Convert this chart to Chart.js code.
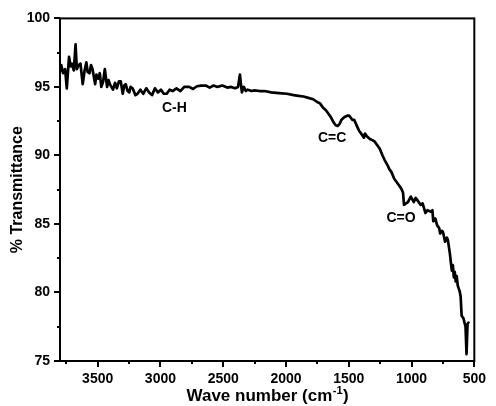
<!DOCTYPE html>
<html>
<head>
<meta charset="utf-8">
<script src="https://cdn.jsdelivr.net/npm/chart.js@4/dist/chart.umd.min.js"></script>
<style>
  html, body { margin: 0; padding: 0; background: #fff; }
</style>
</head>
<body>
<canvas id="ftirChart" width="496" height="406"></canvas>
<script>
// FTIR spectrum
const waveNumbers = [
  3800, 3790, 3775, 3759, 3746, 3728, 3716, 3705, 3690, 3676, 3666, 3651, 3637, 3619, 3604, 3590,
  3580, 3565, 3553, 3541, 3520, 3510, 3495, 3483, 3471, 3456, 3443, 3425, 3413, 3403, 3378, 3362,
  3347, 3331, 3316, 3300, 3288, 3277, 3261, 3248, 3238, 3222, 3199, 3183, 3160, 3137, 3113, 3090,
  3067, 3044, 3020, 2997, 2973, 2950, 2927, 2903, 2872, 2841, 2810, 2771, 2740, 2709, 2678, 2639,
  2608, 2577, 2546, 2507, 2468, 2437, 2406, 2382, 2367, 2359, 2351, 2336, 2320, 2305, 2273, 2250,
  2211, 2172, 2118, 2056, 1993, 1939, 1900, 1861, 1822, 1783, 1752, 1729, 1706, 1682, 1659, 1643,
  1620, 1604, 1589, 1573, 1558, 1534, 1511, 1496, 1472, 1457, 1433, 1418, 1394, 1379, 1371, 1356,
  1332, 1309, 1293, 1270, 1254, 1231, 1216, 1192, 1177, 1161, 1138, 1122, 1099, 1083, 1068, 1060,
  1044, 1029, 1006, 982, 967, 951, 928, 912, 889, 873, 850, 834, 827, 811, 796, 780,
  772, 757, 749, 733, 718, 710, 694, 687, 679, 671, 663, 656, 648, 640, 632, 617,
  609, 601, 586, 570, 562, 554, 547
];
const transmittance = [
  96.1, 96.6, 96.0, 96.3, 94.9, 97.2, 96.5, 96.7, 96.2, 98.1, 96.3, 96.6, 96.7, 95.2, 96.2, 96.8,
  96.1, 96.0, 96.6, 96.3, 95.2, 95.9, 95.6, 96.0, 95.0, 95.4, 96.3, 95.0, 95.5, 95.2, 94.8, 95.3,
  94.9, 95.4, 95.4, 94.5, 95.1, 95.2, 94.7, 94.6, 95.0, 94.9, 94.4, 94.5, 94.8, 94.5, 94.9, 94.6,
  94.4, 94.9, 94.6, 94.8, 94.5, 94.5, 94.8, 94.7, 94.9, 94.7, 95.0, 95.0, 94.85, 95.05, 95.1, 95.1,
  94.95, 95.1, 95.0, 95.1, 94.95, 95.0, 94.9, 95.0, 95.9, 95.2, 94.6, 95.0, 94.7, 94.8, 94.7, 94.75,
  94.7, 94.7, 94.6, 94.55, 94.5, 94.4, 94.35, 94.3, 94.2, 94.1, 93.9, 93.8, 93.5, 93.3, 93.0, 92.8,
  92.4, 92.2, 92.15, 92.3, 92.6, 92.8, 92.9, 92.9, 92.6, 92.6, 92.1, 91.8, 91.5, 91.3, 91.6, 91.4,
  91.2, 91.1, 91.0, 90.7, 90.5, 90.0, 89.7, 89.3, 89.0, 88.8, 88.3, 88.1, 87.8, 87.6, 87.3, 86.4,
  86.5, 86.6, 87.0, 86.6, 86.9, 86.7, 86.4, 86.5, 85.8, 86.0, 85.9, 86.0, 85.2, 85.4, 84.9, 84.7,
  84.3, 84.5, 84.4, 83.7, 84.0, 83.8, 82.8, 82.2, 81.6, 82.0, 81.1, 81.5, 80.8, 81.2, 80.5, 80.1,
  79.7, 78.3, 78.1, 77.5, 75.5, 77.7, 77.8
];

const xTickValues = [3500, 3000, 2500, 2000, 1500, 1000, 500];
const yTickValues = [75, 80, 85, 90, 95, 100];

// band labels, placed in data coordinates
const bandLabels = ["C-H", "C=C", "C=O"];
const bandWave = [2889, 1632, 1084];
const bandT = [93.45, 91.25, 85.4];

const FONT = "'Liberation Sans', Arial, sans-serif";

const framePlugin = {
  id: "frame",
  afterDraw(chart) {
    const { ctx, chartArea: a, scales: { x, y } } = chart;
    ctx.save();
    ctx.strokeStyle = "#000";
    ctx.lineWidth = 2;
    ctx.strokeRect(a.left, a.top, a.right - a.left, a.bottom - a.top);

    // outward ticks, minor ones shorter
    ctx.beginPath();
    for (let v = 500; v <= 3800; v += 250) {
      const px = Math.round(x.getPixelForValue(v));
      const len = v % 500 === 0 ? 6 : 3;
      ctx.moveTo(px, a.bottom);
      ctx.lineTo(px, a.bottom + len);
    }
    for (let v = 75; v <= 100; v += 2.5) {
      const py = Math.round(y.getPixelForValue(v));
      const len = v % 5 === 0 ? 6 : 3;
      ctx.moveTo(a.left, py);
      ctx.lineTo(a.left - len, py);
    }
    ctx.stroke();

    ctx.fillStyle = "#000";
    ctx.font = "bold 14px " + FONT;
    ctx.textAlign = "center";
    ctx.textBaseline = "middle";
    bandLabels.forEach((t, i) => {
      ctx.fillText(t, x.getPixelForValue(bandWave[i]), y.getPixelForValue(bandT[i]));
    });

    // x title with superscript
    const main = "Wave number (cm", sup = "-1", close = ")";
    const mainFont = "bold 17px " + FONT, supFont = "bold 11px " + FONT;
    ctx.font = mainFont;
    const w1 = ctx.measureText(main).width, w3 = ctx.measureText(close).width;
    ctx.font = supFont;
    const w2 = ctx.measureText(sup).width;
    let sx = (a.left + a.right) / 2 - (w1 + w2 + w3) / 2;
    const base = 401;
    ctx.textAlign = "left";
    ctx.textBaseline = "alphabetic";
    ctx.font = mainFont;
    ctx.fillText(main, sx, base);
    ctx.font = supFont;
    ctx.fillText(sup, sx + w1 + 0.5, base - 7);
    ctx.font = mainFont;
    ctx.fillText(close, sx + w1 + w2 + 1, base);
    ctx.restore();
  }
};

new Chart(document.getElementById("ftirChart"), {
  type: "line",
  data: {
    datasets: [{
      data: waveNumbers.map((w, i) => ({ x: w, y: transmittance[i] })),
      borderColor: "#000",
      borderWidth: 2.7,
      borderJoinStyle: "round",
      borderCapStyle: "round",
      pointRadius: 0,
      tension: 0,
      fill: false
    }]
  },
  options: {
    responsive: false,
    animation: false,
    layout: { padding: { top: 17, right: 11, left: 0, bottom: 0 } },
    plugins: { legend: { display: false }, tooltip: { enabled: false } },
    scales: {
      x: {
        type: "linear",
        reverse: true,
        min: 500,
        max: 3800,
        grid: { display: false, drawTicks: false },
        border: { display: false },
        ticks: {
          color: "#000",
          font: { family: FONT, size: 14, weight: "bold" },
          padding: 10,
          maxRotation: 0,
          callback: v => String(v)
        },
        afterBuildTicks: s => { s.ticks = xTickValues.map(v => ({ value: v })); },
        afterFit: s => { s.height = 45; }
      },
      y: {
        min: 75,
        max: 100,
        grid: { display: false, drawTicks: false },
        border: { display: false },
        ticks: {
          color: "#000",
          font: { family: FONT, size: 14, weight: "bold" },
          padding: 10,
          callback: v => String(v)
        },
        afterBuildTicks: s => { s.ticks = yTickValues.map(v => ({ value: v })); },
        afterFit: s => { s.width = 60; },
        title: {
          display: true,
          text: "% Transmittance",
          color: "#000",
          font: { family: FONT, size: 16, weight: "bold" },
          padding: { top: 8, bottom: 0 }
        }
      }
    }
  },
  plugins: [framePlugin]
});
</script>
</body>
</html>
